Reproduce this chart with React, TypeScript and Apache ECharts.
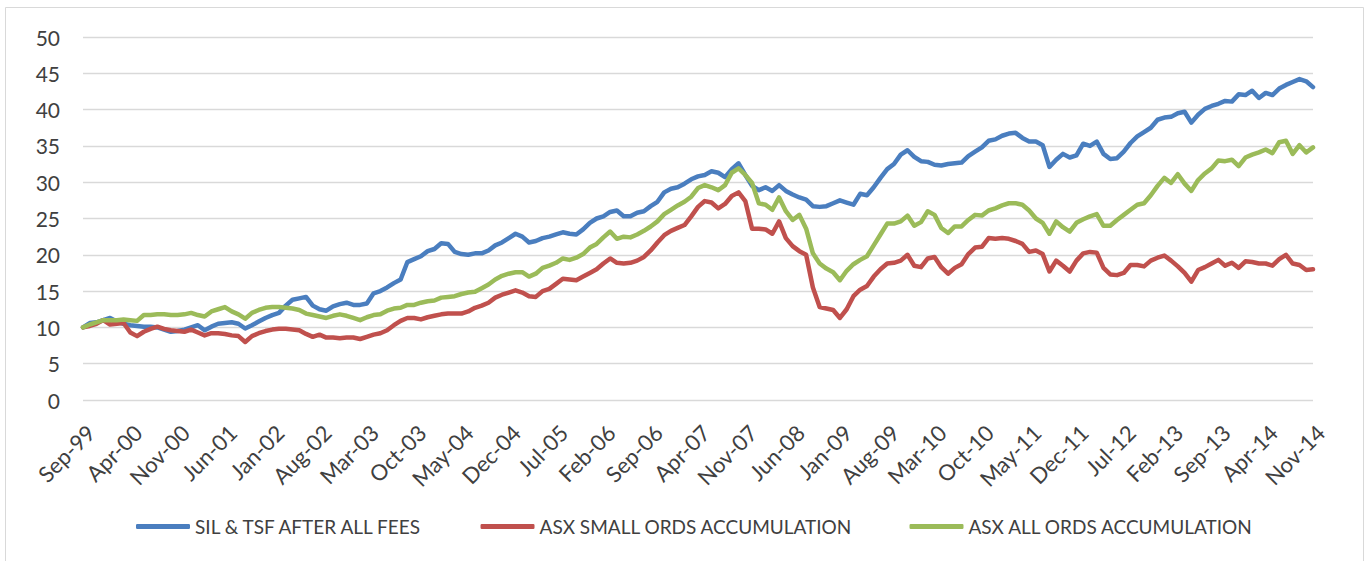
import React, { useEffect, useRef } from "react";
import * as echarts from "echarts";

const MONTHS = ["Jan", "Feb", "Mar", "Apr", "May", "Jun", "Jul", "Aug", "Sep", "Oct", "Nov", "Dec"];
// Monthly categories Sep-99 .. Nov-14
const categories: string[] = [];
for (let k = 0; k < 183; k++) {
  const m = (8 + k) % 12;
  const y = 1999 + Math.floor((8 + k) / 12);
  categories.push(MONTHS[m] + "-" + String(y % 100).padStart(2, "0"));
}

const seriesNames = ["SIL & TSF AFTER ALL FEES", "ASX SMALL ORDS ACCUMULATION", "ASX ALL ORDS ACCUMULATION"];

const silTsf = [
  10.0, 10.6, 10.7, 11.0, 11.3, 10.8, 10.5, 10.3, 10.2, 10.1, 10.1, 10.0, 9.7, 9.4, 9.5, 9.7, 10.0, 10.3, 9.6, 10.1,
  10.5, 10.6, 10.7, 10.5, 9.85, 10.3, 10.8, 11.3, 11.7, 12.0, 13.0, 13.8, 14.0, 14.2, 13.0, 12.5, 12.3, 12.9, 13.2, 13.4,
  13.1, 13.1, 13.3, 14.7, 15.0, 15.5, 16.1, 16.6, 19.0, 19.4, 19.8, 20.5, 20.8, 21.6, 21.5, 20.4, 20.1, 20.0, 20.2, 20.2,
  20.6, 21.3, 21.7, 22.3, 22.9, 22.5, 21.7, 21.9, 22.3, 22.5, 22.8, 23.1, 22.9, 22.8, 23.5, 24.4, 25.0, 25.3, 25.9, 26.1,
  25.3, 25.3, 25.8, 26.0, 26.7, 27.3, 28.6, 29.1, 29.3, 29.8, 30.4, 30.8, 31.0, 31.5, 31.3, 30.7, 31.8, 32.6, 31.0, 29.5,
  28.9, 29.3, 28.8, 29.6, 28.8, 28.3, 27.9, 27.6, 26.7, 26.6, 26.7, 27.1, 27.5, 27.2, 26.9, 28.4, 28.2, 29.3, 30.6, 31.8,
  32.5, 33.8, 34.4, 33.5, 32.9, 32.8, 32.4, 32.3, 32.5, 32.6, 32.7, 33.6, 34.2, 34.8, 35.7, 35.9, 36.4, 36.7, 36.8, 36.1,
  35.6, 35.6, 35.1, 32.1, 33.1, 33.9, 33.4, 33.7, 35.3, 35.0, 35.6, 33.9, 33.2, 33.3, 34.2, 35.4, 36.3, 36.9, 37.5, 38.6,
  38.9, 39.0, 39.5, 39.7, 38.2, 39.3, 40.1, 40.5, 40.8, 41.2, 41.1, 42.1, 42.0, 42.6, 41.6, 42.3, 42.0, 42.9, 43.4, 43.8,
  44.2, 43.9, 43.1,
];

const smallOrds = [
  10.0, 10.2, 10.5, 11.0, 10.4, 10.5, 10.6, 9.3, 8.8, 9.4, 9.8, 10.1, 9.8, 9.6, 9.5, 9.4, 9.7, 9.3, 8.9, 9.2,
  9.2, 9.1, 8.9, 8.8, 8.0, 8.8, 9.2, 9.5, 9.7, 9.8, 9.8, 9.7, 9.6, 9.1, 8.7, 9.0, 8.6, 8.6, 8.5, 8.6,
  8.6, 8.4, 8.7, 9.0, 9.2, 9.6, 10.3, 10.9, 11.3, 11.3, 11.1, 11.4, 11.6, 11.8, 11.9, 11.9, 11.9, 12.2, 12.7, 13.0,
  13.4, 14.1, 14.5, 14.8, 15.1, 14.8, 14.3, 14.2, 15.0, 15.3, 16.0, 16.7, 16.6, 16.5, 17.0, 17.5, 18.0, 18.8, 19.5, 18.9,
  18.8, 18.9, 19.2, 19.7, 20.6, 21.7, 22.7, 23.3, 23.7, 24.1, 25.3, 26.6, 27.4, 27.2, 26.4, 27.0, 28.1, 28.6, 27.4, 23.6,
  23.6, 23.5, 22.9, 24.6, 22.3, 21.2, 20.5, 20.0, 15.5, 12.8, 12.6, 12.4, 11.3, 12.5, 14.3, 15.2, 15.7, 17.0, 18.0, 18.8,
  18.9, 19.2, 20.0, 18.5, 18.3, 19.5, 19.7, 18.3, 17.4, 18.2, 18.7, 20.1, 21.0, 21.1, 22.3, 22.2, 22.3, 22.2, 21.9, 21.5,
  20.4, 20.6, 20.1, 17.7, 19.2, 18.5, 17.7, 19.2, 20.2, 20.4, 20.3, 18.2, 17.3, 17.2, 17.5, 18.6, 18.6, 18.4, 19.2, 19.6,
  19.9, 19.2, 18.4, 17.5, 16.3, 17.9, 18.3, 18.8, 19.3, 18.5, 18.9, 18.2, 19.1, 19.0, 18.8, 18.8, 18.5, 19.4, 20.0, 18.8,
  18.6, 17.9, 18.0,
];

const allOrds = [
  10.0, 10.4, 10.7, 11.0, 11.0, 11.0, 11.1, 11.0, 10.9, 11.7, 11.7, 11.8, 11.8, 11.7, 11.7, 11.8, 12.0, 11.7, 11.5, 12.2,
  12.5, 12.8, 12.2, 11.8, 11.2, 12.0, 12.4, 12.7, 12.8, 12.8, 12.7, 12.6, 12.4, 11.9, 11.7, 11.5, 11.3, 11.6, 11.8, 11.6,
  11.3, 11.0, 11.4, 11.7, 11.8, 12.3, 12.6, 12.7, 13.1, 13.1, 13.4, 13.6, 13.7, 14.1, 14.2, 14.3, 14.6, 14.8, 14.9, 15.4,
  15.9, 16.6, 17.1, 17.4, 17.6, 17.6, 17.0, 17.4, 18.2, 18.5, 18.9, 19.5, 19.3, 19.6, 20.1, 21.0, 21.5, 22.4, 23.2, 22.2,
  22.5, 22.4, 22.8, 23.3, 23.9, 24.6, 25.6, 26.2, 26.8, 27.3, 28.0, 29.2, 29.6, 29.3, 28.9, 29.6, 31.3, 31.9, 31.0, 29.9,
  27.1, 26.9, 26.2, 27.9, 26.0, 24.8, 25.5, 23.6, 20.2, 18.8, 18.1, 17.6, 16.5, 17.8, 18.7, 19.3, 19.8, 21.3, 22.8, 24.3,
  24.3, 24.6, 25.4, 24.0, 24.5, 26.0, 25.5, 23.7, 23.0, 23.9, 23.9, 24.8, 25.5, 25.4, 26.1, 26.4, 26.8, 27.1, 27.1, 26.9,
  26.1, 25.0, 24.4, 22.9, 24.6, 23.8, 23.2, 24.4, 24.9, 25.3, 25.6, 24.0, 24.0, 24.8, 25.5, 26.2, 26.9, 27.1, 28.2, 29.5,
  30.6, 29.9, 31.1, 29.8, 28.8, 30.3, 31.2, 31.9, 33.0, 32.9, 33.1, 32.2, 33.4, 33.8, 34.1, 34.5, 34.0, 35.5, 35.7, 33.9,
  35.1, 34.1, 34.8,
];

const colors = ["#4A7EBF", "#C0504D", "#9BBB59"];
const FONT = "Lato";

export default function App() {
  const ref = useRef<HTMLDivElement>(null);
  useEffect(() => {
    document.body.style.margin = "0";
    const chart = echarts.init(ref.current!, null, { renderer: "svg" });
    const data = [silTsf, smallOrds, allOrds];
    chart.setOption({
      animation: false,
      backgroundColor: "#ffffff",
      textStyle: { fontFamily: FONT },
      graphic: [
        {
          type: "rect",
          shape: { x: 5.5, y: 7.5, width: 1358, height: 560 },
          style: { fill: "none", stroke: "#D9D9D9", lineWidth: 1 },
          silent: true,
        },
      ],
      grid: { left: 83, right: 56, top: 37, bottom: 161, containLabel: false },
      legend: {
        top: 512,
        left: 131,
        itemWidth: 54,
        itemHeight: 5,
        itemGap: 57,
        icon: "roundRect",
        textStyle: { fontFamily: FONT, fontSize: 19, color: "#404040" },
        data: seriesNames,
      },
      xAxis: {
        type: "category",
        data: categories,
        boundaryGap: false,
        axisLine: { show: false },
        axisTick: { show: false },
        splitLine: { show: false },
        axisLabel: {
          interval: 6,
          rotate: 45,
          margin: 21,
          align: "right",
          verticalAlign: "top",
          fontFamily: FONT,
          fontSize: 22,
          color: "#404040",
        },
      },
      yAxis: {
        type: "value",
        min: 0,
        max: 50,
        interval: 5,
        axisLine: { show: false },
        axisTick: { show: false },
        splitLine: { lineStyle: { color: "#D9D9D9", width: 1.3 } },
        axisLabel: { margin: 23, fontFamily: FONT, fontSize: 21, color: "#404040" },
      },
      series: seriesNames.map((name, k) => ({
        name,
        type: "line",
        data: data[k],
        showSymbol: false,
        symbol: "none",
        color: colors[k],
        lineStyle: { width: 4.5, color: colors[k], join: "round", cap: "round" },
      })),
    });
    return () => chart.dispose();
  }, []);
  return <div ref={ref} style={{ position: "absolute", left: 0, top: 0, width: 1369, height: 561 }} />;
}
